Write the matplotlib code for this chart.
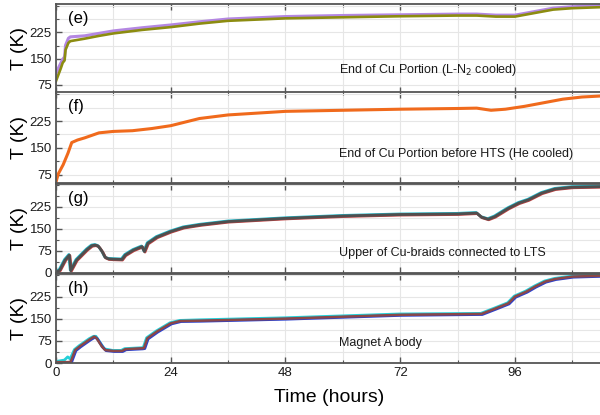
import numpy as np
import matplotlib
matplotlib.use("Agg")
import matplotlib.pyplot as plt
from matplotlib.ticker import MultipleLocator
from matplotlib.transforms import offset_copy

plt.rcParams['font.family'] = ['Liberation Sans', 'DejaVu Sans']

# panel (e) - end of Cu portion, LN2 cooled
e_t = [0, 0.5, 1.0, 1.4, 1.8, 2.0, 2.6, 3.0, 6, 9, 12, 18, 24, 30, 36, 48, 60, 72, 84, 88, 92, 96, 100, 104, 108, 114.2]
e_olive = [86, 104, 122, 138, 145, 175, 195, 200, 207, 215, 222, 232, 240, 250, 258, 265, 268, 271, 273, 273, 270, 270, 280, 290, 294, 297]
e_purple = [105, 120, 134, 145, 152, 185, 205, 209, 212, 219, 226, 235, 243, 252, 260, 267, 270, 272, 274, 274, 271, 271, 281, 291, 295, 298]

# panel (f) - end of Cu portion before HTS, He cooled
f_t = [0, 0.5, 1.5, 2.5, 3.3, 4.5, 6, 9, 12, 16, 20, 24, 30, 36, 48, 60, 72, 84, 88, 91, 94, 98, 102, 106, 110, 114.2]
f_v = [55, 78, 103, 135, 165, 172, 178, 192, 196, 198, 204, 212, 232, 242, 252, 255, 258, 260, 261, 255, 258, 266, 276, 286, 292, 295]

# panel (g) - upper Cu-braids to LTS
g_t = [0, 0.8, 1.9, 2.8, 3.1, 4.3, 5.7, 6.5, 7.5, 8.2, 8.8, 9.2, 9.7, 10.3, 11, 12, 13.8, 14.5, 16.2, 18, 18.5, 19.2, 21.1, 24, 26.7, 30.2,
       36, 48, 60, 72, 84, 88, 89, 90.4, 91.8, 94.6, 96.8, 98.8, 101.6, 104.4, 108, 114.2]
g_v = [2, 10, 44, 61, 8, 44, 67, 80, 93, 95, 92, 84, 72, 53, 48, 47, 46, 61, 78, 90, 73, 101, 122, 141, 155, 164,
       175, 186, 194, 199, 201, 204, 190, 183, 192, 220, 238, 249, 272, 286, 292, 294]

# panel (h) - magnet A body
h_t = [0, 1.9, 2.6, 3.1, 4.0, 5.0, 5.7, 7.1, 8.0, 8.5, 9.6, 10.3, 12, 13.8, 14.5, 18, 18.4, 19.1, 21.1, 24, 26, 30,
       48, 72, 89, 92, 94.6, 96, 98.4, 100.2, 102.3, 104.4, 108, 114.2]
h_brown = [3, 3, 3, 5, 44, 57, 65, 81, 90, 84, 56, 44, 41, 41, 47, 50, 51, 84, 107, 135, 143, 144,
           151, 164, 167, 186, 203, 226, 243, 260, 277, 286, 294, 297]
h_cyan = [3, 8, 19, 12, 44, 57, 65, 81, 89, 89, 62, 46, 41, 41, 47, 50, 51, 84, 107, 135, 143, 145,
          152, 165, 167, 186, 203, 226, 243, 260, 277, 286, 294, 297]

labels = ["(e)", "(f)", "(g)", "(h)"]
notes = ["End of Cu Portion (L-N$_2$ cooled)", "End of Cu Portion before HTS (He cooled)",
         "Upper of Cu-braids connected to LTS", "Magnet A body"]
note_y = [0.26, 0.32, 0.23, 0.23]

fig = plt.figure(figsize=(6, 4.15), dpi=100)
boxes = [(0.7759, 0.2145), (0.5590, 0.2193), (0.3422, 0.2145), (0.1253, 0.2145)]
axs = [fig.add_axes([0.0933, b, 0.91, h]) for b, h in boxes]

spc = '#555555'
for i, ax in enumerate(axs):
    ax.set_xlim(0, 114.2)
    if i < 2:
        ax.set_ylim(52, 306)
        ax.set_yticks([75, 150, 225])
    else:
        ax.set_ylim(0, 303)
        ax.set_yticks([0, 75, 150, 225])
    ax.xaxis.set_major_locator(MultipleLocator(24))
    ax.xaxis.set_minor_locator(MultipleLocator(12))
    ax.yaxis.set_minor_locator(MultipleLocator(37.5))
    ax.grid(which='both', color='#e6e6e6', lw=0.8)
    ax.set_axisbelow(True)
    ax.tick_params(which='both', direction='in', top=True, colors=spc, labelcolor='#1a1a1a', labelsize=9.5, pad=3)
    ax.tick_params(which='major', length=4, width=1)
    ax.tick_params(which='minor', length=2.5, width=0.8)
    for s in ['left', 'top', 'bottom']:
        ax.spines[s].set_color(spc)
        ax.spines[s].set_linewidth(1.3)
    ax.spines['right'].set_visible(False)
    if i < 3:
        ax.tick_params(labelbottom=False)
    ax.set_ylabel("T (K)", fontsize=14, labelpad=1)
    ax.text(0.022, 0.84, labels[i], transform=ax.transAxes, fontsize=12, va='center')
    ax.text(0.518, note_y[i], notes[i], transform=ax.transAxes, fontsize=9, va='center', color='#1a1a1a')

ax = axs[0]
ax.plot(e_t, e_purple, color='#b487e2', lw=2.2, transform=offset_copy(ax.transData, fig=fig, x=0, y=0.8, units='points'))
ax.plot(e_t, e_olive, color='#8c8c10', lw=1.9)

axs[1].plot(f_t, f_v, color='#f06a1c', lw=2.2)

ax = axs[2]
ax.plot(g_t, g_v, color='#22b8c8', lw=2.0, transform=offset_copy(ax.transData, fig=fig, x=-0.4, y=0.4, units='points'))
ax.plot(g_t, g_v, color='#c04040', lw=2.0, transform=offset_copy(ax.transData, fig=fig, x=0.4, y=-0.4, units='points'))
ax.plot(g_t, g_v, color='#4f4f4f', lw=2.0)

ax = axs[3]
ax.plot(h_t, h_cyan, color='#25d0d8', lw=2.0, transform=offset_copy(ax.transData, fig=fig, x=-0.5, y=0.4, units='points'))
ax.plot(h_t, h_brown, color='#2a40d0', lw=2.0, transform=offset_copy(ax.transData, fig=fig, x=0.6, y=-0.4, units='points'))
ax.plot(h_t, h_brown, color='#8a4848', lw=1.8)
ax.set_xlabel("Time (hours)", fontsize=14, labelpad=7)

fig.savefig("out.png", dpi=100)
